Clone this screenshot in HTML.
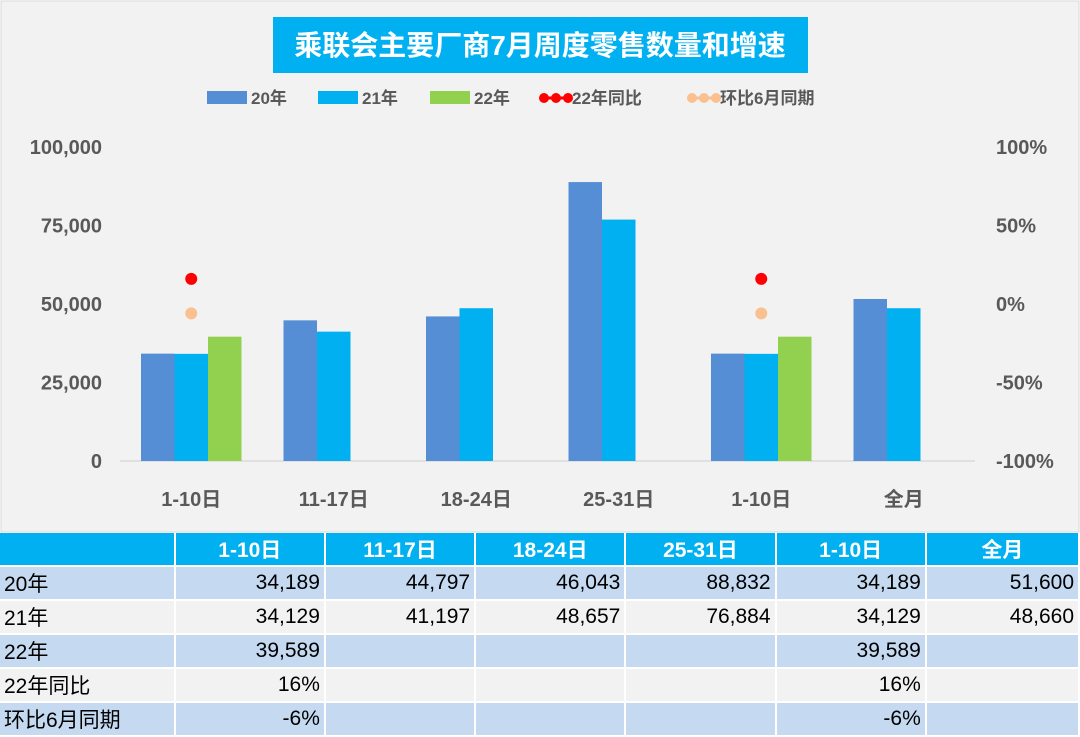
<!DOCTYPE html>
<html><head><meta charset="utf-8"><style>
body{margin:0;width:1080px;height:737px;background:#fff;font-family:"Liberation Sans","Noto Sans CJK SC",sans-serif;overflow:hidden}
#chart{position:absolute;left:0;top:0}
table{position:absolute;left:0;top:533px;border-collapse:separate;border-spacing:2px 0;margin-left:-2px}
td{height:32px;padding:0 4px;font-size:21px;border-bottom:2px solid #fff;box-sizing:border-box;height:34px}
th{height:34px;background:#00b0f0;color:#fff;font-size:21px;font-weight:bold;border-bottom:2px solid #fff;box-sizing:border-box}
tr.b td{background:#c5d9f1}tr.g td{background:#f2f2f2}
td.n{text-align:right}
</style></head><body>
<svg id="chart" width="1080" height="533">
<rect x="1" y="1" width="1078" height="531" fill="#f2f2f2" stroke="#d9d9d9"/>
<rect x="273" y="17" width="535" height="56" fill="#00b0f0"/>
<text x="540" y="55" text-anchor="middle" fill="#fff" font-size="28" font-weight="bold">乘联会主要厂商7月周度零售数量和增速</text>
<g id="legend" font-size="17" font-weight="bold" fill="#595959">
<rect x="207" y="91" width="40" height="13" fill="#558ed5"/><text x="251" y="104">20年</text>
<rect x="318" y="91" width="40" height="13" fill="#00b0f0"/><text x="362" y="104">21年</text>
<rect x="430" y="91" width="40" height="13" fill="#92d050"/><text x="474" y="104">22年</text>
<line x1="540" y1="98" x2="568" y2="98" stroke="#ff0000" stroke-width="3"/><circle cx="544" cy="98" r="5" fill="#ff0000"/><circle cx="556" cy="98" r="5" fill="#ff0000"/><circle cx="568" cy="98" r="5" fill="#ff0000"/><text x="572" y="104">22年同比</text>
<line x1="688" y1="98" x2="716" y2="98" stroke="#fac090" stroke-width="3"/><circle cx="692" cy="98" r="5" fill="#fac090"/><circle cx="704" cy="98" r="5" fill="#fac090"/><circle cx="716" cy="98" r="5" fill="#fac090"/><text x="720" y="104">环比6月同期</text>
</g>
<g id="axes" font-size="20" font-weight="bold" fill="#595959"></g>
<g id="bars"></g>
<g id="dots"></g>
</svg>
<table>
<tr><th style="width:177px"></th><th style="width:150px">1-10日</th><th style="width:150px">11-17日</th><th style="width:150px">18-24日</th><th style="width:150px">25-31日</th><th style="width:150px">1-10日</th><th style="width:153px">全月</th></tr>
<tr class="b"><td>20年</td><td class="n">34,189</td><td class="n">44,797</td><td class="n">46,043</td><td class="n">88,832</td><td class="n">34,189</td><td class="n">51,600</td></tr>
<tr class="g"><td>21年</td><td class="n">34,129</td><td class="n">41,197</td><td class="n">48,657</td><td class="n">76,884</td><td class="n">34,129</td><td class="n">48,660</td></tr>
<tr class="b"><td>22年</td><td class="n">39,589</td><td></td><td></td><td></td><td class="n">39,589</td><td></td></tr>
<tr class="g"><td>22年同比</td><td class="n">16%</td><td></td><td></td><td></td><td class="n">16%</td><td></td></tr>
<tr class="b"><td>环比6月同期</td><td class="n">-6%</td><td></td><td></td><td></td><td class="n">-6%</td><td></td></tr>
</table>
<script>
const categories=["1-10日","11-17日","18-24日","25-31日","1-10日","全月"];
const s20=[34189,44797,46043,88832,34189,51600];
const s21=[34129,41197,48657,76884,34129,48660];
const s22=[39589,null,null,null,39589,null];
const yoy=[0.16,null,null,null,0.16,null];
const mom=[-0.06,null,null,null,-0.06,null];
const leftTicks=[0,25000,50000,75000,100000];
const rightTicks=[-1,-0.5,0,0.5,1];
const NS="http://www.w3.org/2000/svg";
const X0=120,X1=975,Y0=461,Y1=147;
const y=v=>Y0-(v/100000)*(Y0-Y1);
const yr=p=>Y0-((p+1)/2)*(Y0-Y1);
const cx=i=>X0+(i+0.5)*(X1-X0)/categories.length;
function mk(t,a,p){const e=document.createElementNS(NS,t);for(const k in a)e.setAttribute(k,a[k]);p.appendChild(e);return e;}
const ax=document.getElementById('axes');
let l=mk('line',{x1:X0,x2:X1,y1:Y0,y2:Y0,stroke:'#d9d9d9','stroke-width':1.5},ax);


leftTicks.forEach(v=>{const t=mk('text',{x:102,y:y(v)+7,'text-anchor':'end'},ax);t.textContent=v.toLocaleString('en-US');

});
rightTicks.forEach(v=>{const t=mk('text',{x:996,y:yr(v)+7},ax);t.textContent=Math.round(v*100)+'%';

});
categories.forEach((c,i)=>{const t=mk('text',{x:cx(i),y:506,'text-anchor':'middle'},ax);t.textContent=c;

});
const bg=document.getElementById('bars'),bw=33.5;
[[s20,'#558ed5',-1.5,'bar-20'],[s21,'#00b0f0',-0.5,'bar-21'],[s22,'#92d050',0.5,'bar-22']].forEach(([s,c,o,n])=>{
s.forEach((v,i)=>{if(v==null)return;const r=mk('rect',{x:cx(i)+o*bw,y:y(v),width:bw,height:Y0-y(v),fill:c},bg);

});});
const dg=document.getElementById('dots');
[[yoy,'#ff0000','dot-yoy'],[mom,'#fac090','dot-mom']].forEach(([s,c,n])=>{s.forEach((v,i)=>{if(v==null)return;
const d=mk('circle',{cx:cx(i),cy:yr(v),r:6,fill:c},dg);

});});
</script>
</body></html>
